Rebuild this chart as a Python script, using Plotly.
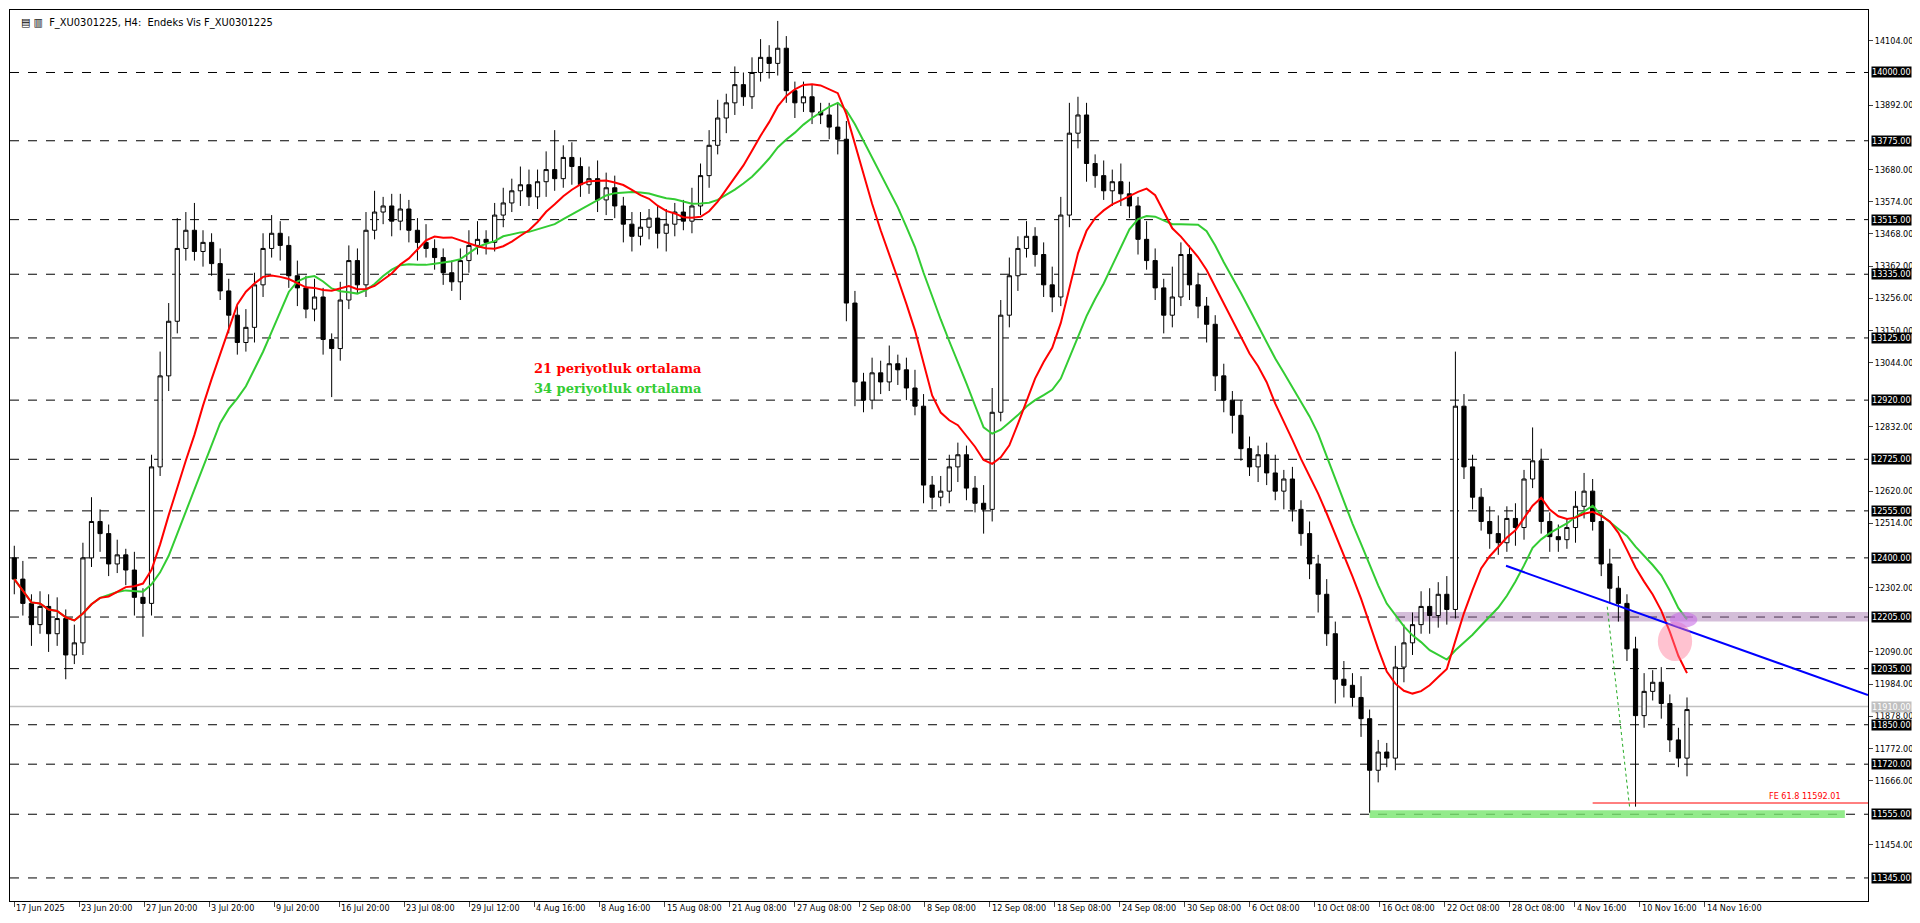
import pandas as pd
import plotly.graph_objects as go

# closes of the 4H bars
closes = [
    12330, 12250, 12180, 12240, 12150, 12200, 12080, 12120, 12400, 12520,
    12480, 12380, 12410, 12360, 12270, 12250, 12700, 13000, 13180, 13420,
    13480, 13410, 13440, 13370, 13280, 13200, 13110, 13160, 13300, 13420,
    13470, 13430, 13330, 13290, 13220, 13260, 13120, 13090, 13250, 13380,
    13300, 13480, 13540, 13560, 13510, 13550, 13480, 13440, 13420, 13390,
    13340, 13310, 13380, 13430, 13450, 13440, 13530, 13570, 13610, 13630,
    13590, 13640, 13680, 13650, 13720, 13690, 13630, 13650, 13580, 13620,
    13560, 13500, 13460, 13490, 13520, 13470, 13500, 13540, 13510, 13560,
    13660, 13760, 13850, 13900, 13960, 13920, 14000, 14050, 14030, 14080,
    13940, 13900, 13920, 13870, 13860, 13820, 13780, 13240, 12980, 12920,
    13010, 12980, 13040, 13020, 12960, 12900, 12640, 12600, 12620, 12700,
    12740, 12630, 12580, 12560, 12880, 13200, 13330, 13420, 13460, 13400,
    13300, 13260, 13530, 13800, 13860, 13700, 13660, 13610, 13640, 13600,
    13560, 13450, 13380, 13290, 13200, 13260, 13400, 13300, 13230, 13170,
    13000, 12920, 12870, 12760, 12700, 12740, 12680, 12620, 12660, 12560,
    12480, 12380, 12280, 12150, 12000, 11980, 11940, 11870, 11700, 11760,
    11740, 12040, 12120, 12180, 12240, 12210, 12280, 12230, 12900, 12700,
    12600, 12520, 12480, 12450, 12530, 12500, 12660, 12720, 12520, 12470,
    12460, 12500, 12570, 12620, 12520, 12380, 12300, 12250, 12100, 11880,
    11960, 11990, 11920, 11800, 11740, 11900,
]
hi_ext = [
    40, 60, 30, 50, 40, 70, 30, 60, 50, 80,
    40, 30, 50, 20, 60, 30, 40, 80, 60, 100,
    60, 90, 40, 30, 50, 40, 30, 60, 40, 50,
    60, 40, 30, 50, 40, 60, 30, 20, 60, 50,
    40, 60, 70, 30, 40, 50, 30, 40, 60, 30,
    30, 40, 40, 50, 60, 30, 40, 50, 40, 60,
    50, 40, 60, 130, 40, 50, 30, 40, 60, 50,
    40, 30, 40, 50, 30, 40, 50, 30, 40, 60,
    40, 50, 60, 30, 60, 40, 50, 60, 40, 90,
    40, 30, 50, 40, 30, 40, 80, 60, 40, 30,
    50, 40, 60, 30, 40, 60, 40, 30, 50, 40,
    40, 30, 40, 60, 80, 50, 60, 40, 50, 30,
    40, 60, 60, 100, 60, 40, 30, 50, 40, 60,
    40, 30, 60, 40, 30, 100, 40, 30, 40, 30,
    30, 40, 30, 50, 40, 30, 40, 60, 30, 40,
    30, 40, 30, 50, 40, 60, 40, 70, 30, 40,
    30, 70, 60, 40, 50, 60, 40, 60, 180, 40,
    40, 30, 50, 60, 40, 50, 30, 110, 40, 30,
    40, 30, 50, 60, 40, 30, 50, 40, 30, 40,
    60, 40, 50, 30, 40, 40,
]
lo_ext = [
    50, 40, 70, 30, 60, 40, 80, 30, 40, 30,
    60, 40, 30, 50, 60, 110, 40, 30, 50, 40,
    40, 30, 50, 40, 30, 60, 40, 30, 50, 40,
    30, 50, 40, 60, 30, 40, 50, 160, 40, 30,
    30, 40, 30, 40, 50, 30, 40, 60, 30, 40,
    40, 30, 60, 40, 30, 40, 30, 40, 30, 50,
    30, 40, 50, 40, 30, 60, 40, 30, 40, 50,
    40, 60, 50, 30, 40, 50, 60, 40, 30, 40,
    30, 40, 30, 50, 40, 30, 40, 30, 50, 40,
    40, 50, 30, 40, 30, 40, 50, 60, 80, 40,
    30, 40, 30, 50, 40, 30, 60, 40, 30, 40,
    50, 40, 30, 80, 40, 30, 40, 50, 30, 40,
    40, 50, 30, 40, 50, 60, 40, 30, 50, 40,
    40, 50, 30, 40, 60, 40, 30, 50, 40, 60,
    50, 40, 60, 40, 30, 50, 40, 30, 60, 40,
    40, 50, 60, 40, 80, 40, 30, 60, 140, 40,
    30, 40, 50, 40, 30, 60, 40, 50, 30, 40,
    40, 30, 50, 40, 30, 60, 40, 30, 40, 50,
    40, 30, 50, 40, 30, 40, 50, 60, 40, 300,
    40, 30, 50, 40, 30, 60,
]
first_open = 12400

date_labels = [
    "17 Jun 2025", "23 Jun 20:00", "27 Jun 20:00", "3 Jul 20:00", "9 Jul 20:00",
    "16 Jul 20:00", "23 Jul 08:00", "29 Jul 12:00", "4 Aug 16:00", "8 Aug 16:00",
    "15 Aug 08:00", "21 Aug 08:00", "27 Aug 08:00", "2 Sep 08:00", "8 Sep 08:00",
    "12 Sep 08:00", "18 Sep 08:00", "24 Sep 08:00", "30 Sep 08:00", "6 Oct 08:00",
    "10 Oct 08:00", "16 Oct 08:00", "22 Oct 08:00", "28 Oct 08:00", "4 Nov 16:00",
    "10 Nov 16:00", "14 Nov 16:00",
]
plain_ticks = [14104, 13892, 13680, 13574, 13468, 13362, 13256, 13150, 13044,
               12832, 12620, 12514, 12302, 12090, 11984, 11878, 11772, 11666, 11454]
levels = [14000, 13775, 13515, 13335, 13125, 12920, 12725, 12555, 12400,
          12205, 12035, 11850, 11720, 11555, 11345]
last_price = 11910
fe_level = 11592.01

# each bar here stands for about two chart bars, so 21/34 periods -> 11/17 bars
df = pd.DataFrame({"close": closes})
df["open"] = df["close"].shift(1).fillna(first_open)
df["high"] = df[["open", "close"]].max(axis=1) + pd.Series(hi_ext)
df["low"] = df[["open", "close"]].min(axis=1) - pd.Series(lo_ext)
df["ma21"] = df["close"].rolling(11, min_periods=1).mean()
df["ma34"] = df["close"].rolling(17, min_periods=1).mean()
x = list(range(len(df)))

XMAX = 216.1
FONT = "DejaVu Sans Condensed, Liberation Sans, sans-serif"
fig = go.Figure()

# zones
fig.add_shape(type="rect", x0=161, x1=XMAX, y0=12190, y1=12222, fillcolor="rgba(160,110,170,0.45)",
              line_width=0, layer="below")
fig.add_shape(type="rect", x0=158, x1=213.4, y0=11543, y1=11568, fillcolor="rgba(120,230,110,0.8)",
              line_width=0, layer="below")
for lv in levels:
    fig.add_hline(y=lv, line=dict(color="black", width=1, dash="dash"), layer="below")
fig.add_hline(y=last_price, line=dict(color="#c0c0c0", width=1.5), layer="below")

fig.add_trace(go.Candlestick(
    x=x, open=df["open"], high=df["high"], low=df["low"], close=df["close"],
    increasing=dict(line=dict(color="black", width=1), fillcolor="white"),
    decreasing=dict(line=dict(color="black", width=1), fillcolor="black"),
    whiskerwidth=0, showlegend=False, hoverinfo="skip"))
fig.add_trace(go.Scatter(x=x, y=df["ma34"], mode="lines", line=dict(color="#33cc33", width=2),
                         showlegend=False))
fig.add_trace(go.Scatter(x=x, y=df["ma21"], mode="lines", line=dict(color="#ff0000", width=2),
                         showlegend=False))

# drawings
fig.add_shape(type="line", x0=173.9, y0=12374, x1=XMAX, y1=11948, line=dict(color="#0000ff", width=2))
fig.add_shape(type="line", x0=184, y0=fe_level, x1=XMAX, y1=fe_level, line=dict(color="red", width=1))
fig.add_shape(type="line", x0=185.7, y0=12239, x1=188.3, y1=11580,
              line=dict(color="#22aa22", width=1, dash="dot"))
fig.add_shape(type="circle", x0=191.6, x1=195.6, y0=12060, y1=12190,
              fillcolor="rgba(255,120,150,0.45)", line_width=0)
fig.add_shape(type="circle", x0=193.0, x1=196.2, y0=12170, y1=12222,
              fillcolor="rgba(200,110,230,0.6)", line_width=0)

ann = []
ann.append(dict(x=213.2, y=fe_level, text="FE 61.8 11592.01", xanchor="right", yanchor="bottom",
                showarrow=False, font=dict(color="red", size=9)))
ann.append(dict(x=60.4, y=13023, text="<b>21 periyotluk ortalama</b>", xanchor="left", showarrow=False,
                font=dict(color="red", size=13, family="DejaVu Serif")))
ann.append(dict(x=60.4, y=12960, text="<b>34 periyotluk ortalama</b>", xanchor="left", showarrow=False,
                font=dict(color="#33cc33", size=13, family="DejaVu Serif")))
ann.append(dict(xref="paper", yref="paper", x=0.005, y=0.995, xanchor="left", yanchor="top",
                text="▤ ▥  F_XU0301225, H4:  Endeks Vis F_XU0301225", showarrow=False,
                font=dict(color="black", size=11)))
for lv in levels:
    ann.append(dict(xref="paper", x=1, xshift=3, y=lv, xanchor="left", text=f"{lv:.2f}", showarrow=False,
                    bgcolor="black", font=dict(color="white", size=9), borderpad=0))
ann.append(dict(xref="paper", x=1, xshift=3, y=last_price, xanchor="left", text=f"{last_price:.2f}",
                showarrow=False, bgcolor="#c0c0c0", font=dict(color="white", size=9), borderpad=0))
tick_pos = [i * 7.58 for i in range(len(date_labels))]
for tp, lab in zip(tick_pos, date_labels):
    ann.append(dict(x=tp, yref="paper", y=0, xanchor="left", yanchor="top", text=lab,
                    showarrow=False, font=dict(size=9, color="black")))

fig.update_layout(
    width=1920, height=923, margin=dict(l=2, r=60, t=2, b=30),
    paper_bgcolor="white", plot_bgcolor="white",
    font=dict(family=FONT, size=9, color="black"),
    annotations=ann,
    xaxis=dict(range=[-0.5, XMAX], rangeslider=dict(visible=False), showgrid=False, zeroline=False,
               tickvals=tick_pos, ticktext=[""] * len(tick_pos), ticks="outside", ticklen=5,
               showline=True, linecolor="black", mirror=True),
    yaxis=dict(range=[11269, 14206], side="right", showgrid=False, zeroline=False,
               tickvals=plain_ticks, ticktext=[f"{t:.2f}" for t in plain_ticks],
               ticks="outside", ticklen=4, showline=True, linecolor="black", mirror=True),
)
fig.write_html("out.html")
